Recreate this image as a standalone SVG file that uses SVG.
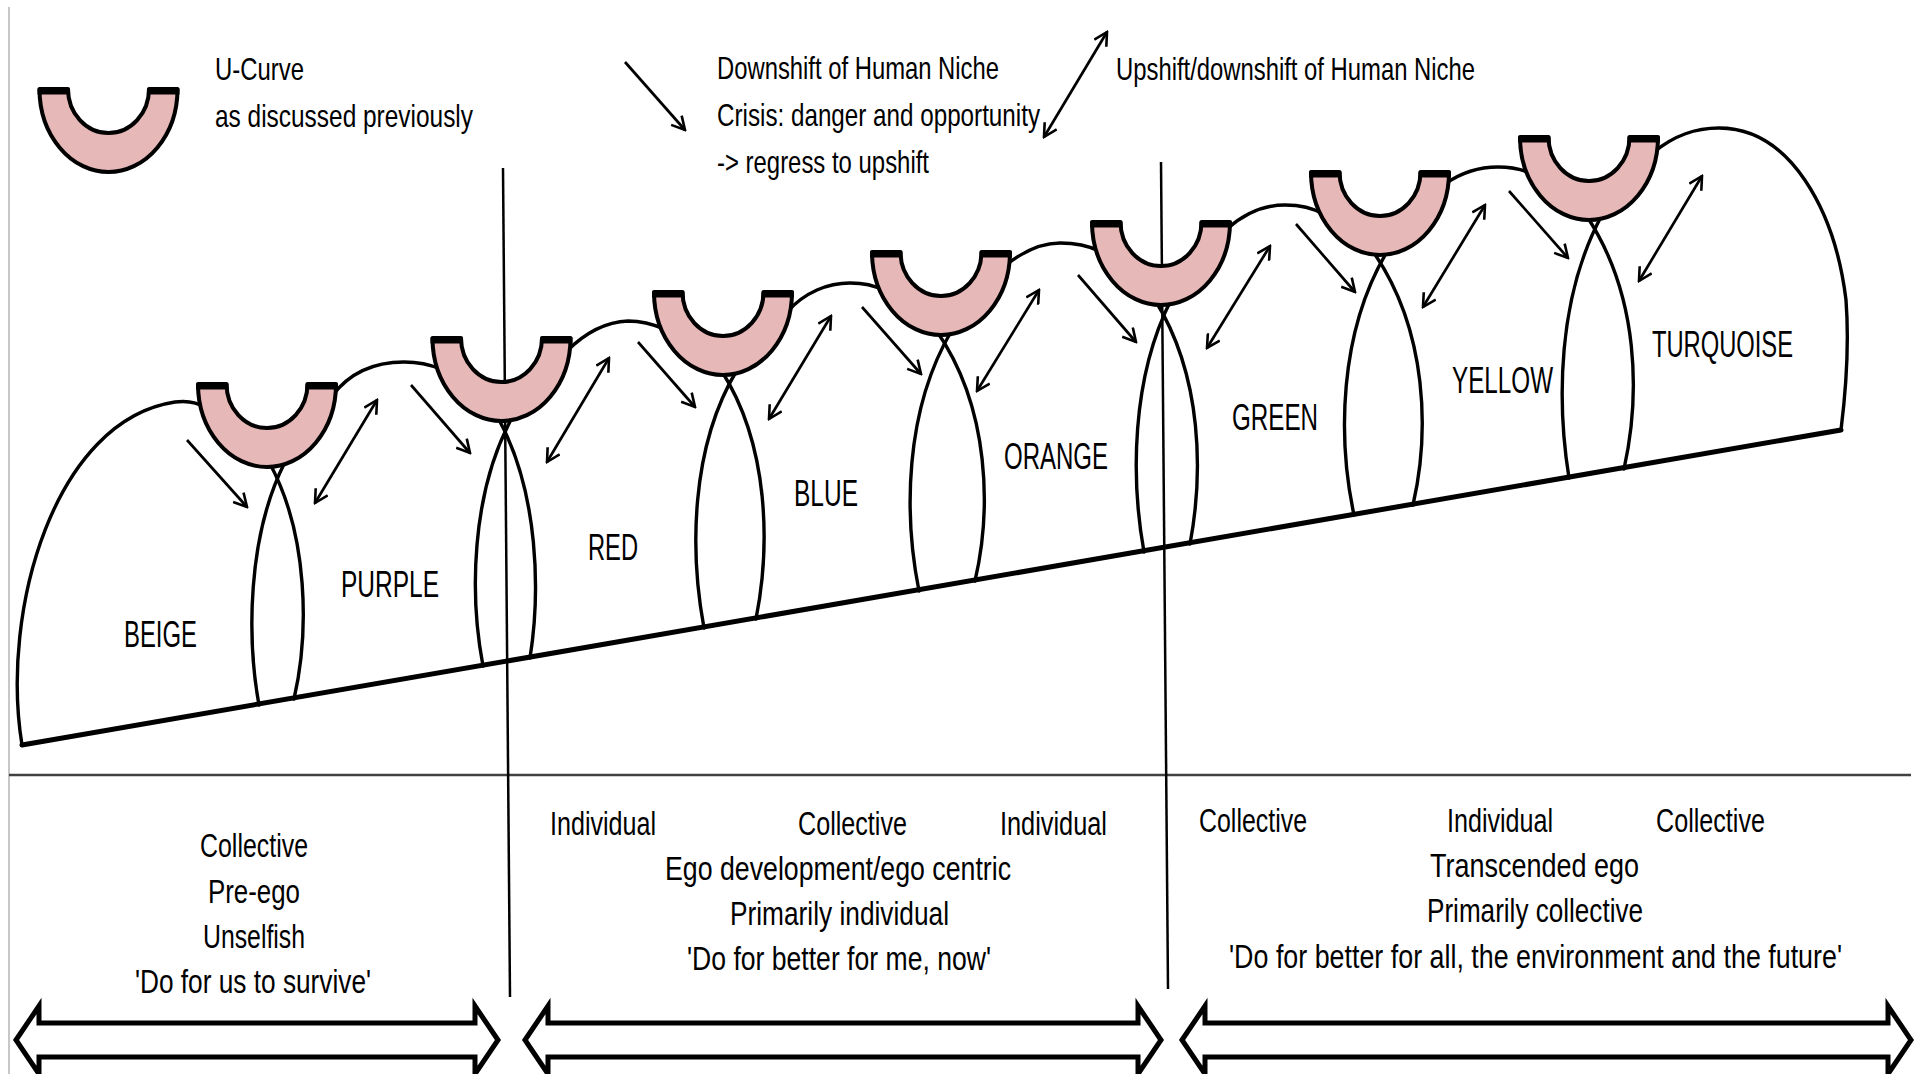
<svg xmlns="http://www.w3.org/2000/svg" xmlns:xlink="http://www.w3.org/1999/xlink" width="1921" height="1074" viewBox="0 0 1921 1074">
<style>
.t{font-family:"Liberation Sans",Arial,sans-serif;fill:#000;}
.lg{font-size:32px;}
.lb{font-size:36px;}
.bt{font-size:34px;}
.ln{fill:none;stroke:#000;stroke-width:3.4;stroke-linecap:round;}
.gr{fill:none;stroke:#000;stroke-width:5;stroke-linecap:round;}
.dv{fill:none;stroke:#000;stroke-width:2.5;}
.ar{fill:none;stroke:#000;stroke-width:2.7;}
.ar1{marker-end:url(#ah);}
.ar2{marker-start:url(#ah);marker-end:url(#ah);}
.ush{fill:#E6B8B7;stroke:#000;stroke-width:4;stroke-linejoin:round;}
.cap{fill:none;stroke:#000;stroke-width:6;}
.big{fill:#fff;stroke:#000;stroke-width:5;stroke-linejoin:miter;}
</style>
<defs>
<marker id="ah" viewBox="0 0 16 16" refX="14" refY="8" markerWidth="16" markerHeight="16" markerUnits="userSpaceOnUse" orient="auto-start-reverse">
<path d="M1,1 L14,8 L1,15" fill="none" stroke="#000" stroke-width="2.6"/>
</marker>
<g id="ucurve">
<path class="ush" d="M-69,0 A69,83 0 0 0 69,0 L40.5,0 A40.5,44 0 0 1 -40.5,0 Z"/>
<path class="cap" d="M-71,2.5 H-38.5 M38.5,2.5 H71"/>
</g>
</defs>
<rect x="0" y="0" width="1921" height="1074" fill="#fff"/>
<line x1="9" y1="7" x2="9" y2="1074" stroke="#b4b4b4" stroke-width="1.5"/>
<line x1="9" y1="775" x2="1911" y2="775" stroke="#404040" stroke-width="2.5"/>
<g id="dividers">
<line class="dv" x1="503" y1="168" x2="510" y2="997"/>
<line class="dv" x1="1161" y1="162" x2="1168" y2="989"/>
</g>
<g id="connectors">
<path class="ln" d="M22,745 C0,610 55,420 175,402 C190,400 200,404 206,408"/>
<path class="ln" d="M332,396 C350,372 375,362 404,362 C418,362 429,364 440,369"/>
<path class="ln" d="M567,351 C585,333 605,322 628,321 C643,321 655,325 664,329"/>
<path class="ln" d="M787,312 C805,292 828,283 850,283 C864,283 874,285 882,290"/>
<path class="ln" d="M1006,265 C1025,250 1042,243 1060,243 C1076,243 1089,246 1099,251"/>
<path class="ln" d="M1227,229 C1245,213 1265,205 1285,205 C1302,205 1313,208 1323,214"/>
<path class="ln" d="M1445,184 C1462,172 1480,167 1498,167 C1512,167 1521,169 1530,173"/>
<path class="ln" d="M1654,152 C1675,135 1695,128 1719,128 C1790,128 1835,210 1846,300 C1849,340 1846,390 1841,430"/>
<path class="ln" d="M285,462 C247,537 247,639 259,705"/>
<path class="ln" d="M269,462 C309,535 309,634 294,699"/>
<path class="ln" d="M513,416 C470,494 470,598 483,666"/>
<path class="ln" d="M497,416 C540,493 540,595 530,658"/>
<path class="ln" d="M737,370 C690,448 690,553 704,628"/>
<path class="ln" d="M721,370 C770,446 770,548 756,619"/>
<path class="ln" d="M952,330 C904,411 904,516 919,591"/>
<path class="ln" d="M936,330 C991,409 991,512 975,581"/>
<path class="ln" d="M1171,300 C1131,379 1131,480 1144,552"/>
<path class="ln" d="M1155,300 C1203,377 1203,475 1190,544"/>
<path class="ln" d="M1388,250 C1338,333 1338,440 1354,515"/>
<path class="ln" d="M1372,250 C1429,331 1429,435 1413,505"/>
<path class="ln" d="M1602,215 C1557,298 1557,403 1569,478"/>
<path class="ln" d="M1586,215 C1640,296 1640,397 1624,469"/>
<path class="gr" d="M22,745 L1841,430"/>
</g>
<g id="u-legend"><use xlink:href="#ucurve" href="#ucurve" transform="translate(108.5,89)"/></g>
<g id="u1"><use href="#ucurve" xlink:href="#ucurve" transform="translate(267,384)"/></g>
<g id="u2"><use href="#ucurve" xlink:href="#ucurve" transform="translate(501.5,338)"/></g>
<g id="u3"><use href="#ucurve" xlink:href="#ucurve" transform="translate(723,292)"/></g>
<g id="u4"><use href="#ucurve" xlink:href="#ucurve" transform="translate(941,252)"/></g>
<g id="u5"><use href="#ucurve" xlink:href="#ucurve" transform="translate(1161,222)"/></g>
<g id="u6"><use href="#ucurve" xlink:href="#ucurve" transform="translate(1380,172)"/></g>
<g id="u7"><use href="#ucurve" xlink:href="#ucurve" transform="translate(1589,137)"/></g>
<g id="shift-arrows">
<line class="ar ar1" x1="625" y1="62" x2="685" y2="130"/>
<line class="ar ar2" x1="1107" y1="32" x2="1044" y2="137"/>
<line class="ar ar1" x1="187" y1="440" x2="247" y2="507"/>
<line class="ar ar1" x1="411" y1="385" x2="470" y2="453"/>
<line class="ar ar1" x1="638" y1="342" x2="695" y2="407"/>
<line class="ar ar1" x1="862" y1="307" x2="921" y2="374"/>
<line class="ar ar1" x1="1078" y1="275" x2="1136" y2="342"/>
<line class="ar ar1" x1="1296" y1="224" x2="1355" y2="292"/>
<line class="ar ar1" x1="1509" y1="191" x2="1568" y2="258"/>
<line class="ar ar2" x1="377" y1="400" x2="315" y2="503"/>
<line class="ar ar2" x1="609" y1="358" x2="547" y2="462"/>
<line class="ar ar2" x1="831" y1="316" x2="769" y2="419"/>
<line class="ar ar2" x1="1039" y1="290" x2="977" y2="391"/>
<line class="ar ar2" x1="1270" y1="246" x2="1207" y2="348"/>
<line class="ar ar2" x1="1485" y1="205" x2="1423" y2="307"/>
<line class="ar ar2" x1="1702" y1="176" x2="1639" y2="281"/>
</g>
<g id="legend-text" class="t lg">
<text x="215" y="80" textLength="89" lengthAdjust="spacingAndGlyphs">U-Curve</text>
<text x="215" y="127" textLength="258" lengthAdjust="spacingAndGlyphs">as discussed previously</text>
<text x="717" y="79" textLength="282" lengthAdjust="spacingAndGlyphs">Downshift of Human Niche</text>
<text x="717" y="126" textLength="323" lengthAdjust="spacingAndGlyphs">Crisis: danger and opportunity</text>
<text x="717" y="173" textLength="212" lengthAdjust="spacingAndGlyphs">-&gt; regress to upshift</text>
<text x="1116" y="80" textLength="359" lengthAdjust="spacingAndGlyphs">Upshift/downshift of Human Niche</text>
</g>
<g id="level-labels" class="t lb">
<text x="124" y="647" textLength="73" lengthAdjust="spacingAndGlyphs">BEIGE</text>
<text x="341" y="597" textLength="98" lengthAdjust="spacingAndGlyphs">PURPLE</text>
<text x="588" y="560" textLength="50" lengthAdjust="spacingAndGlyphs">RED</text>
<text x="794" y="506" textLength="64" lengthAdjust="spacingAndGlyphs">BLUE</text>
<text x="1004" y="469" textLength="104" lengthAdjust="spacingAndGlyphs">ORANGE</text>
<text x="1232" y="430" textLength="86" lengthAdjust="spacingAndGlyphs">GREEN</text>
<text x="1452" y="393" textLength="101" lengthAdjust="spacingAndGlyphs">YELLOW</text>
<text x="1652" y="357" textLength="141" lengthAdjust="spacingAndGlyphs">TURQUOISE</text>
</g>
<g id="section1" class="t bt">
<text x="200" y="857" textLength="108" lengthAdjust="spacingAndGlyphs">Collective</text>
<text x="208" y="903" textLength="92" lengthAdjust="spacingAndGlyphs">Pre-ego</text>
<text x="203" y="948" textLength="102" lengthAdjust="spacingAndGlyphs">Unselfish</text>
<text x="135" y="993" textLength="236" lengthAdjust="spacingAndGlyphs">'Do for us to survive'</text>
</g>
<g id="section2" class="t bt">
<text x="550" y="835" textLength="106" lengthAdjust="spacingAndGlyphs">Individual</text>
<text x="798" y="835" textLength="109" lengthAdjust="spacingAndGlyphs">Collective</text>
<text x="1000" y="835" textLength="107" lengthAdjust="spacingAndGlyphs">Individual</text>
<text x="665" y="880" textLength="346" lengthAdjust="spacingAndGlyphs">Ego development/ego centric</text>
<text x="730" y="925" textLength="219" lengthAdjust="spacingAndGlyphs">Primarily individual</text>
<text x="687" y="970" textLength="304" lengthAdjust="spacingAndGlyphs">'Do for better for me, now'</text>
</g>
<g id="section3" class="t bt">
<text x="1199" y="832" textLength="108" lengthAdjust="spacingAndGlyphs">Collective</text>
<text x="1447" y="832" textLength="106" lengthAdjust="spacingAndGlyphs">Individual</text>
<text x="1656" y="832" textLength="109" lengthAdjust="spacingAndGlyphs">Collective</text>
<text x="1430" y="877" textLength="209" lengthAdjust="spacingAndGlyphs">Transcended ego</text>
<text x="1427" y="922" textLength="216" lengthAdjust="spacingAndGlyphs">Primarily collective</text>
<text transform="translate(1229,968) scale(0.79,1)" x="0" y="0" textLength="776" lengthAdjust="spacingAndGlyphs">'Do for better for all, the environment and the future'</text>
</g>
<g id="range-arrows">
<path class="big" d="M16,1040 L39,1006 L39,1023 L475,1023 L475,1006 L498,1040 L475,1074 L475,1057 L39,1057 L39,1074 Z"/>
<path class="big" d="M525,1040 L548,1006 L548,1023 L1138,1023 L1138,1006 L1161,1040 L1138,1074 L1138,1057 L548,1057 L548,1074 Z"/>
<path class="big" d="M1182,1040 L1205,1006 L1205,1023 L1888,1023 L1888,1006 L1911,1040 L1888,1074 L1888,1057 L1205,1057 L1205,1074 Z"/>
</g>
</svg>
